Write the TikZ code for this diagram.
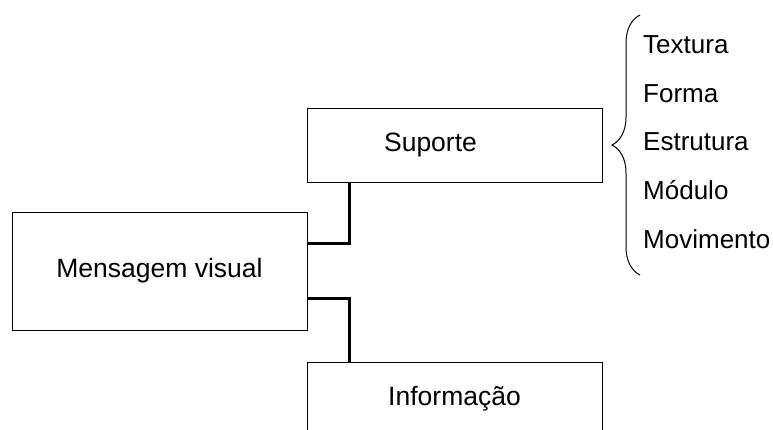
\documentclass[tikz,border=0pt]{standalone}
\usepackage{fontspec}
\setmainfont{Liberation Sans}
\usetikzlibrary{positioning,decorations.pathreplacing}

\begin{document}
\begin{tikzpicture}[x=1pt, y=-1pt,
    box/.style={draw, rectangle, line width=1pt, minimum width=295pt, font=\fontsize{26.5}{31}\selectfont},
    link/.style={line width=3.5pt},
    item/.style={anchor=west, inner sep=0pt, font=\fontsize{26}{31}\selectfont}]
    \useasboundingbox (0,0) rectangle (773,429);
    \node[box, minimum height=74pt] (suporte) at (454.5, 145) {Suporte\kern48pt};
    \node[box, minimum height=118pt] (mensagem) at (159.5, 271) {Mensagem visual};
    \node[box, minimum height=74pt] (info) at (454.5, 399) {Informação};
    %linee di collegamento
    \draw[link] ([xshift=43pt]suporte.south west) |- ([yshift=-32pt]mensagem.north east);
    \draw[link] ([yshift=32pt]mensagem.south east) -| ([xshift=43pt]info.north west);
    %parentesi graffa
    \draw[line width=1pt, decorate, decoration={brace, amplitude=28pt, aspect=0.5}] (640, 275) -- (640, 15);
    \foreach \name/\y in {Textura/45, Forma/93.5, Estrutura/142, Módulo/190.5, Movimento/239}
      \node[item] (\name) at (643, \y) {\name};
\end{tikzpicture}
\end{document}
